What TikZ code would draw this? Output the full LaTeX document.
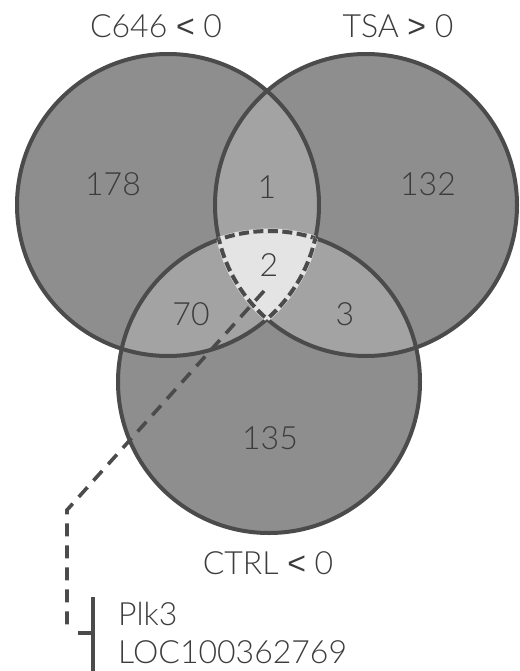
\documentclass[tikz,border=0pt]{standalone}
\usepackage{fontspec}
\IfFontExistsTF{Lato Light}{\setmainfont{Lato Light}}{\setmainfont{Liberation Sans}}
\newfontfamily\relfont{Liberation Sans}
\newcommand{\lessthan}{{\relfont <}}
\newcommand{\morethan}{{\relfont >}}
\definecolor{single}{HTML}{8E8E8E}
\definecolor{pair}{HTML}{A3A3A3}
\definecolor{triple}{HTML}{E4E4E4}
\definecolor{edge}{HTML}{4B4B4B}
\definecolor{ink}{HTML}{3C3C3C}
\begin{document}
\begin{tikzpicture}[x=1pt,y=-1pt,
  lbl/.style={font=\fontsize{32}{38}\selectfont, text=ink, inner sep=0pt},
  rim/.style={draw=edge, line width=4pt},
  leader/.style={draw=edge, line width=3.6pt, dash pattern=on 13pt off 9pt},
  bracket/.style={draw=edge, line width=4pt}]
\useasboundingbox (0,0) rectangle (519,671);
\def\R{151}
\coordinate (cA) at (168,205);
\coordinate (cB) at (366,205);
\coordinate (cC) at (269,382);

% base fills
\fill[single] (cA) circle[radius=\R];
\fill[single] (cB) circle[radius=\R];
\fill[single] (cC) circle[radius=\R];
% pairwise overlaps
\begin{scope}
  \clip (cA) circle[radius=\R];
  \fill[pair] (cB) circle[radius=\R];
  \fill[pair] (cC) circle[radius=\R];
\end{scope}
\begin{scope}
  \clip (cB) circle[radius=\R];
  \fill[pair] (cC) circle[radius=\R];
\end{scope}
% triple overlap
\begin{scope}
  \clip (cA) circle[radius=\R];
  \clip (cB) circle[radius=\R];
  \fill[triple] (cC) circle[radius=\R];
\end{scope}
% outlines
\draw[rim] (cA) circle[radius=\R];
\draw[rim] (cB) circle[radius=\R];
\draw[rim] (cC) circle[radius=\R];
% dashed border of the triple overlap
\begin{scope}
  \clip (cA) circle[radius=\R];
  \clip (cB) circle[radius=\R];
  \draw[triple, line width=5pt] (cC) circle[radius=\R];
  \draw[edge, line width=4pt, dash pattern=on 10pt off 4.5pt] (cC) circle[radius=\R];
\end{scope}
\begin{scope}
  \clip (cB) circle[radius=\R];
  \clip (cC) circle[radius=\R];
  \draw[triple, line width=5pt] (cA) circle[radius=\R];
  \draw[edge, line width=4pt, dash pattern=on 10pt off 4.5pt] (cA) circle[radius=\R];
\end{scope}
\begin{scope}
  \clip (cA) circle[radius=\R];
  \clip (cC) circle[radius=\R];
  \draw[triple, line width=5pt] (cB) circle[radius=\R];
  \draw[edge, line width=4pt, dash pattern=on 10pt off 4.5pt] (cB) circle[radius=\R];
\end{scope}

% set labels
\node[lbl] (labA) at (156,26) {C646 \lessthan{} 0};
\node[lbl] (labB) at (398,26) {TSA \morethan{} 0};
\node[lbl] (labC) at (268,563) {CTRL \lessthan{} 0};

% region counts
\node[lbl] (nA)   at (113,184) {178};
\node[lbl] (nB)   at (428,184) {132};
\node[lbl] (nC)   at (270,438) {135};
\node[lbl] (nAB)  at (267,187) {1};
\node[lbl] (nAC)  at (191,314) {70};
\node[lbl] (nBC)  at (345,314) {3};
\node[lbl] (nABC) at (269,265) {2};

% genes in the triple overlap
\node[lbl, anchor=base west] (gene1) at (118,625) {Plk3};
\node[lbl, anchor=base west] (gene2) at (118,663) {LOC100362769};

\coordinate (lead) at (264,291);
\coordinate (bend) at (67,510);
\coordinate (foot) at (67,633);
\coordinate (brTop) at ([xshift=-25pt]gene1.west |- 0,597);
\coordinate (brBot) at ([xshift=-25pt]gene1.west |- 0,671);
\coordinate (tick) at (78,633);

\draw[leader] (lead) -- (bend) -- (foot);
\draw[bracket] (brTop) -- (brBot);
\draw[bracket] (tick) -- (tick -| brTop);
\end{tikzpicture}
\end{document}
